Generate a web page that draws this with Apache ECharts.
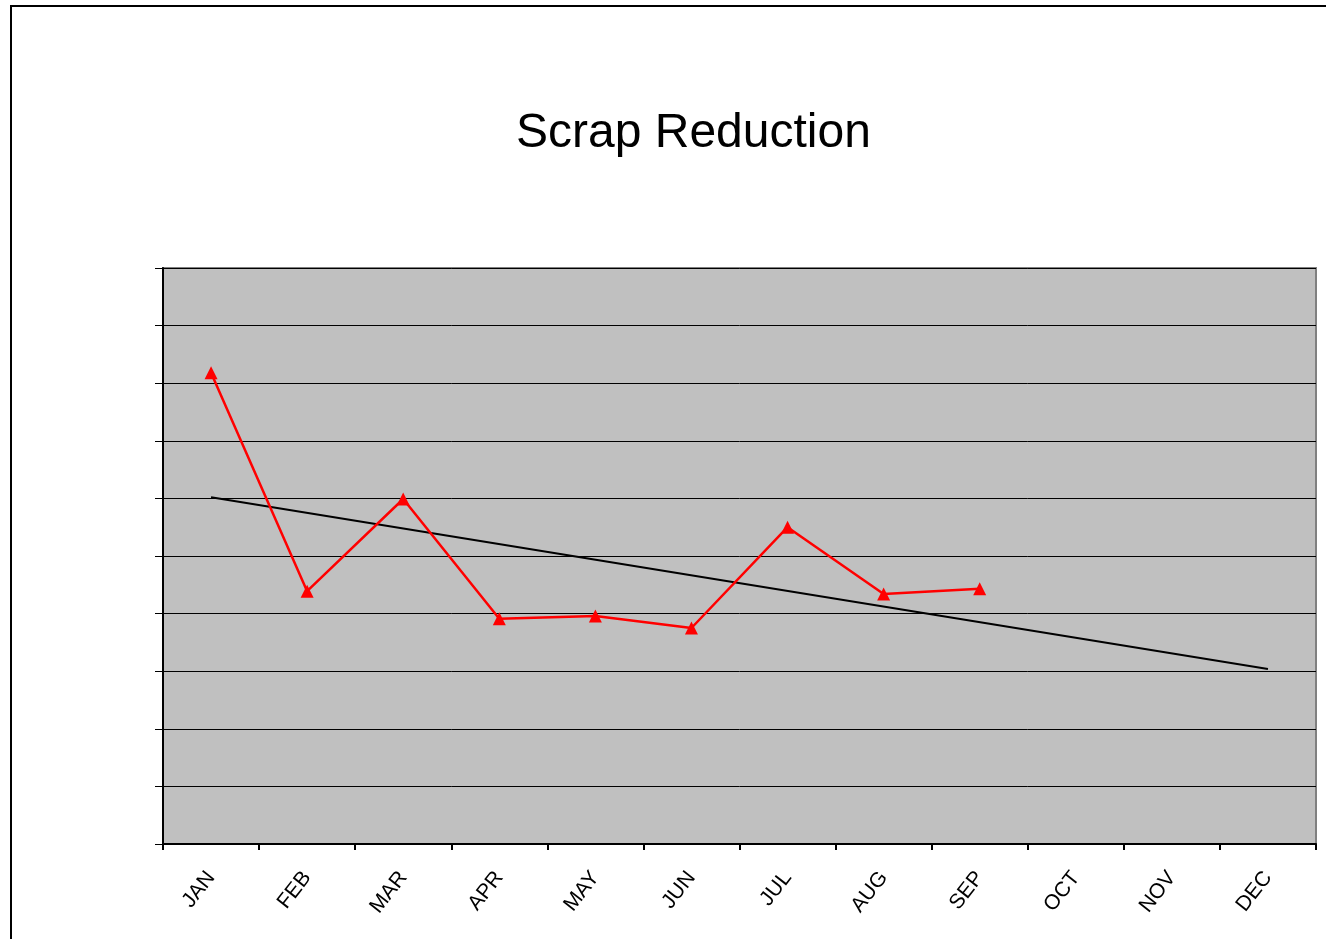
<!DOCTYPE html>
<html>
<head>
    <meta charset="utf-8"/>
    <title>Scrap Reduction</title>
    <script src="https://cdn.jsdelivr.net/npm/echarts@6/dist/echarts.min.js"></script>
    <style>
        html, body { margin: 0; padding: 0; background: #fff; }
        #main { width: 1326px; height: 939px; }
    </style>
</head>
<body>
<div id="main"></div>
<script type="text/javascript">
    var months = ['JAN', 'FEB', 'MAR', 'APR', 'MAY', 'JUN', 'JUL', 'AUG', 'SEP', 'OCT', 'NOV', 'DEC'];
    var scrap = [8.18, 4.39, 5.99, 3.91, 3.96, 3.75, 5.50, 4.34, 4.43];
    var trendEnds = [6.02, 3.04];   // trend line value at JAN and at DEC

    var myChart = echarts.init(document.getElementById('main'));

    var option = {
        backgroundColor: '#fff',
        animation: false,
        title: {
            text: 'Scrap Reduction',
            left: 516,
            top: 110,
            padding: 0,
            textStyle: {
                fontFamily: 'Liberation Sans, Arial',
                fontSize: 48,
                fontWeight: 'normal',
                color: '#000'
            }
        },
        graphic: [
            {
                type: 'rect',
                silent: true,
                shape: { x: 11, y: 6, width: 1400, height: 1000 },
                style: { fill: 'none', stroke: '#000', lineWidth: 2 }
            }
        ],
        grid: {
            left: 163,
            right: 10,
            top: 268,
            bottom: 95,
            show: true,
            backgroundColor: '#c0c0c0',
            borderColor: '#808080',
            borderWidth: 2
        },
        xAxis: {
            type: 'category',
            data: months,
            boundaryGap: true,
            axisLine: { lineStyle: { color: '#000', width: 2 } },
            axisTick: { show: true, length: 6, lineStyle: { color: '#000', width: 2 } },
            axisLabel: {
                rotate: 52,
                margin: 30,
                fontFamily: 'Liberation Sans, Arial',
                fontSize: 21,
                color: '#000'
            }
        },
        yAxis: {
            type: 'value',
            min: 0,
            max: 10,
            interval: 1,
            axisLine: { show: true, lineStyle: { color: '#000', width: 2 } },
            axisTick: { show: true, length: 8, lineStyle: { color: '#000', width: 1 } },
            axisLabel: { show: false },
            splitLine: { lineStyle: { color: '#000', width: 1 } }
        },
        series: [
            {
                name: 'Trend',
                type: 'line',
                data: [],
                silent: true,
                markLine: {
                    silent: true,
                    symbol: ['none', 'none'],
                    label: { show: false },
                    lineStyle: { color: '#000', width: 2, type: 'solid' },
                    data: [
                        [
                            { coord: [months[0], trendEnds[0]] },
                            { coord: [months[months.length - 1], trendEnds[1]] }
                        ]
                    ]
                }
            },
            {
                name: 'Scrap',
                type: 'line',
                data: scrap,
                symbol: 'triangle',
                symbolSize: 13,
                itemStyle: { color: '#ff0000' },
                lineStyle: { color: '#ff0000', width: 2.5 },
                z: 5
            }
        ]
    };

    myChart.setOption(option);
</script>
</body>
</html>
